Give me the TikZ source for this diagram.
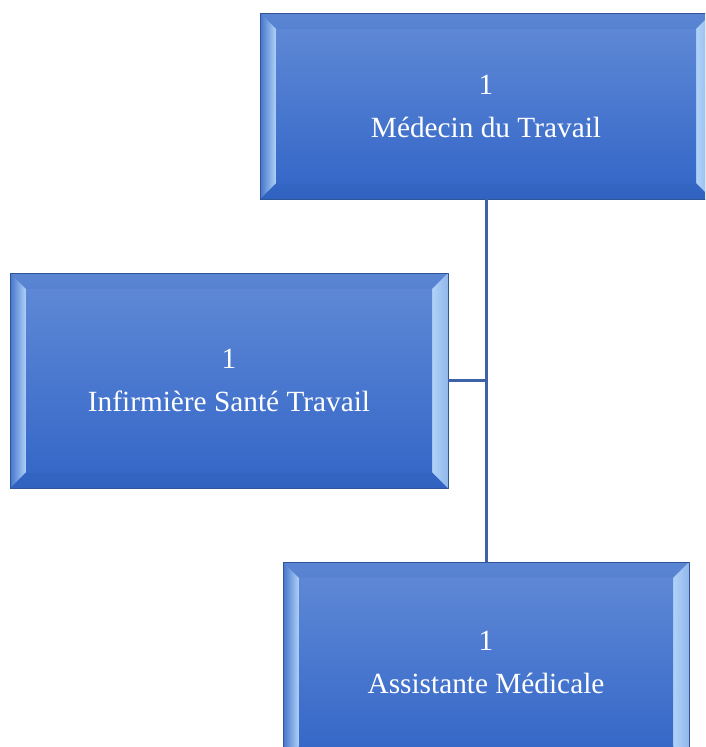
\documentclass[tikz,border=0pt]{standalone}
\usepackage{fontspec}
\usepackage{tikz}
\setmainfont{Liberation Serif}
\definecolor{bordbleu}{HTML}{2F5597}
\definecolor{haut}{HTML}{5A85D3}
\definecolor{bas}{HTML}{3062C0}
\definecolor{ihaut}{HTML}{5E88D6}
\definecolor{ibas}{HTML}{3668C8}
\definecolor{biseau}{HTML}{4574CC}
\definecolor{clair}{HTML}{B0D3F8}
\definecolor{trait}{HTML}{3D63A6}
\tikzstyle{poste}=[rectangle,draw=bordbleu,line width=0.8pt,top color=haut,bottom color=bas,
  text=white,align=center,inner sep=0pt,font=\fontsize{29.3}{43}\selectfont,
  path picture={
    \coordinate (bsw) at (path picture bounding box.south west);
    \coordinate (bnw) at (path picture bounding box.north west);
    \coordinate (bse) at (path picture bounding box.south east);
    \coordinate (bne) at (path picture bounding box.north east);
    \shade[left color=biseau,middle color=biseau!50!clair,right color=clair] (bsw) -- ([xshift=16pt,yshift=16pt]bsw) -- ([xshift=16pt,yshift=-16pt]bnw) -- (bnw) -- cycle;
    \shade[left color=clair,right color=clair!70!biseau] (bse) -- ([xshift=-16pt,yshift=16pt]bse) -- ([xshift=-16pt,yshift=-16pt]bne) -- (bne) -- cycle;
    \shade[top color=ihaut,bottom color=ibas] ([xshift=16pt,yshift=16pt]bsw) rectangle ([xshift=-16pt,yshift=-16pt]bne);
  }]
\begin{document}
\begin{tikzpicture}[line cap=round,line join=round,x=1pt,y=-1pt]
  \clip (0,0) rectangle (705,747);
  \useasboundingbox (0,0) rectangle (705,747);
  % les trois postes
  \node[poste,minimum width=452pt,minimum height=186pt] (medecin) at (486,106) {1\\Médecin du Travail};
  \node[poste,minimum width=438pt,minimum height=215pt] (infirmiere) at (229,380.5) {1\\Infirmière Santé Travail};
  \node[poste,minimum width=406pt,minimum height=200pt] (assistante) at (486,662) {1\\Assistante Médicale};
  % liaisons
  \draw [line width=3pt,color=trait,line cap=butt] (medecin.south) -- (assistante.north);
  \draw [line width=3pt,color=trait,line cap=butt] (infirmiere.east) -- (infirmiere.east -| medecin.south);
\end{tikzpicture}
\end{document}
